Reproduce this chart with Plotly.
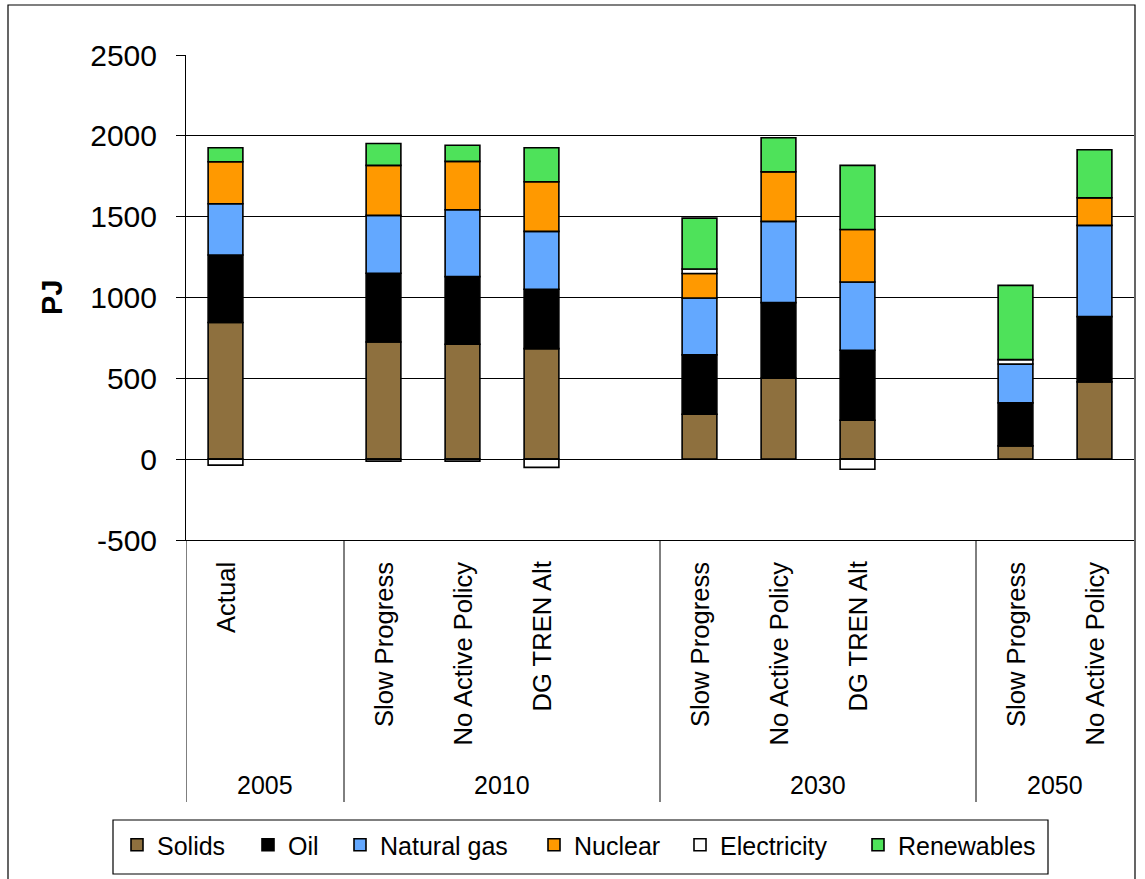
import plotly.graph_objects as go

# Category structure: year groups and the scenarios shown under each
years = ["2005", "2010", "2030", "2050"]
scenarios = [
    ["Actual"],
    ["Slow Progress", "No Active Policy", "DG TREN Alt"],
    ["Slow Progress", "No Active Policy", "DG TREN Alt"],
    ["Slow Progress", "No Active Policy"],
]

# Energy by source (PJ), one value per scenario bar in the order above
solids = [845, 725, 711, 684, 278, 501, 241, 82, 478]
oil = [418, 425, 418, 367, 367, 467, 433, 266, 404]
natural_gas = [317, 358, 414, 358, 352, 503, 422, 241, 564]
nuclear = [260, 309, 299, 307, 151, 307, 325, 0, 171]
electricity = [-37, -12, -12, -51, 28, 0, -62, 27, 0]
renewables = [86, 136, 100, 210, 315, 210, 396, 459, 297]

# Value axis ticks
y_ticks = [-500, 0, 500, 1000, 1500, 2000, 2500]
y_tick_labels = ["-500", "0", "500", "1000", "1500", "2000", "2500"]

series = [
    ("Solids", solids, "#8E703E"),
    ("Oil", oil, "#000000"),
    ("Natural gas", natural_gas, "#63A8FF"),
    ("Nuclear", nuclear, "#FF9900"),
    ("Electricity", electricity, "#FFFFFF"),
    ("Renewables", renewables, "#4EE25A"),
]

# Slot positions on the x axis: one blank slot separates each year group
positions, labels, boundaries, group_spans = [], [], [], []
pos = 0
for gi, group in enumerate(scenarios):
    start = pos
    for name in group:
        positions.append(pos)
        labels.append(name)
        pos += 1
    end = pos - 1
    if gi < len(scenarios) - 1:
        boundaries.append(pos + 0.5)
        group_spans.append((start - 0.5, pos + 0.5))
        pos += 1
    else:
        group_spans.append((start - 0.5, end + 0.5))
x_min, x_max = -0.5, positions[-1] + 0.5

FONT = "Liberation Sans, Arial, sans-serif"

# Plot-area geometry (pixels) used to place items outside the axes
W, H = 1145, 879
L, R, T, B = 186, 11, 55, 339
plot_h = H - T - B

def py(pixel_y):
    """Convert a page pixel row to paper y."""
    return (H - B - pixel_y) / plot_h

def px(pixel_x):
    """Convert a page pixel column to paper x."""
    return (pixel_x - L) / (W - L - R)

# Each series gets its own legend so the entries can be spaced evenly
legend_text_x = [159, 290, 382, 576, 722, 900]

fig = go.Figure()
legend_layouts = {}
for i, (name, values, color) in enumerate(series):
    legend_id = "legend" if i == 0 else f"legend{i + 1}"
    fig.add_trace(go.Bar(
        x=positions, y=values, name=name, width=0.44, legend=legend_id,
        marker=dict(color=color, line=dict(color="#000000", width=1.6)),
    ))
    legend_layouts[legend_id] = dict(
        orientation="h", x=px(legend_text_x[i] - 42), xanchor="left",
        y=py(845), yanchor="middle", borderwidth=0,
        bgcolor="rgba(0,0,0,0)",
        font=dict(family=FONT, size=25, color="#000000"),
    )

annotations = []
for xpos, text in zip(positions, labels):
    annotations.append(dict(
        x=xpos, y=py(560), xref="x", yref="paper", text=text, textangle=-90,
        showarrow=False, xanchor="center", yanchor="top",
        font=dict(family=FONT, size=25.6, color="#000000"),
    ))
for (g0, g1), year in zip(group_spans, years):
    annotations.append(dict(
        x=(g0 + g1) / 2, y=py(785), xref="x", yref="paper", text=year,
        showarrow=False, xanchor="center", yanchor="middle",
        font=dict(family=FONT, size=25, color="#000000"),
    ))
annotations.append(dict(
    x=px(52), y=py(298), xref="paper", yref="paper", text="<b>PJ</b>",
    textangle=-90, showarrow=False, xanchor="center", yanchor="middle",
    font=dict(family=FONT, size=29, color="#000000"),
))

shapes = []
# Group divider lines and the extended left axis line in the category table
for bx in [x_min] + boundaries:
    shapes.append(dict(type="line", xref="x", yref="paper", x0=bx, x1=bx,
                       y0=0, y1=py(802), line=dict(color="#000000", width=1)))
# Outer chart border
shapes.append(dict(type="rect", xref="paper", yref="paper",
                   x0=px(8), x1=px(1135), y0=py(5), y1=py(900),
                   line=dict(color="#000000", width=1.2), layer="below"))
# Frame around the legend entries
shapes.append(dict(type="rect", xref="paper", yref="paper",
                   x0=px(113), x1=px(1048), y0=py(820), y1=py(874),
                   line=dict(color="#000000", width=1.2),
                   fillcolor="#FFFFFF", layer="below"))

fig.update_layout(
    width=W, height=H,
    margin=dict(l=L, r=R, t=T, b=B),
    paper_bgcolor="#FFFFFF", plot_bgcolor="#FFFFFF",
    barmode="relative",
    font=dict(family=FONT, color="#000000"),
    showlegend=True,
    xaxis=dict(range=[x_min, x_max], showticklabels=False, ticks="",
               showgrid=False, zeroline=False, showline=True,
               linecolor="#000000", linewidth=1),
    yaxis=dict(range=[-500, 2500], tickmode="array", tickvals=y_ticks,
               ticktext=y_tick_labels,
               showgrid=True, gridcolor="#000000", gridwidth=1,
               zeroline=True, zerolinecolor="#000000", zerolinewidth=1,
               showline=True, linecolor="#000000", linewidth=1,
               ticks="outside", ticklen=9, tickcolor="#000000",
               ticklabelstandoff=13,
               tickfont=dict(family=FONT, size=30, color="#000000")),
    annotations=annotations,
    shapes=shapes,
    **legend_layouts,
)

fig.write_html("out.html")
